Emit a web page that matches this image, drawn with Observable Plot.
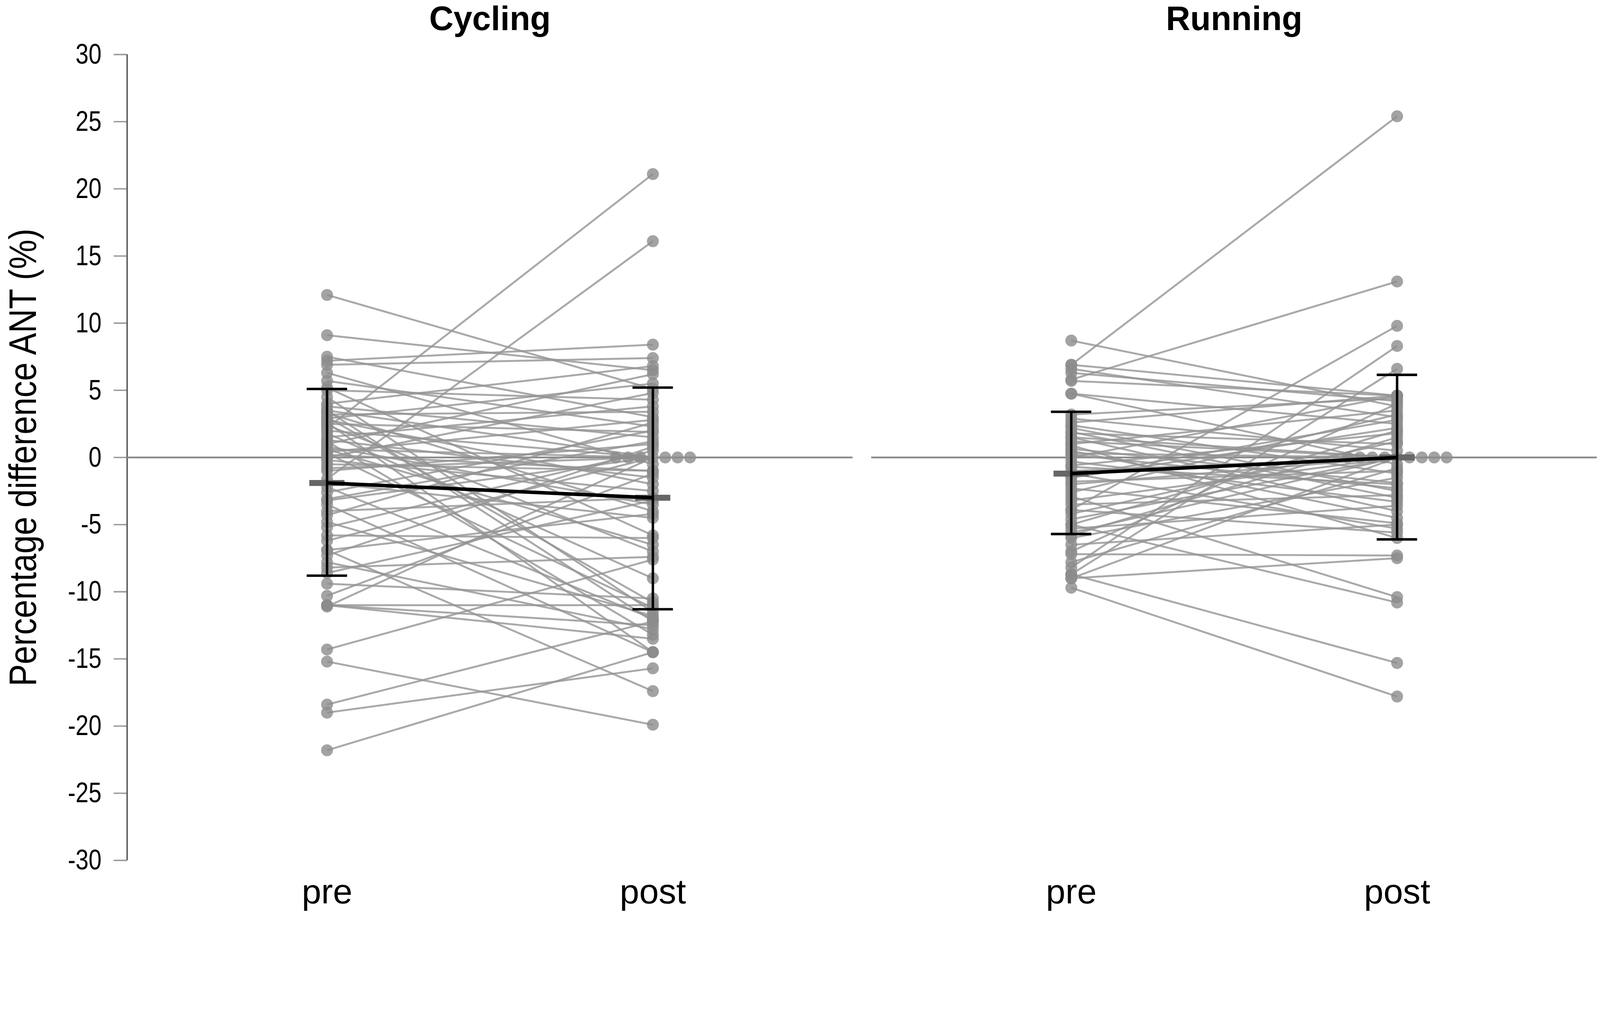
<!DOCTYPE html>
<html>
<head>
<meta charset="utf-8">
<script src="https://cdn.jsdelivr.net/npm/d3@7"></script>
<script src="https://cdn.jsdelivr.net/npm/@observablehq/plot@0.6"></script>
<style>
  html, body { margin: 0; padding: 0; background: #fff; }
  #chart svg { display: block; }
</style>
</head>
<body>
<div id="chart"></div>
<script>
// ---------- data ----------
const sports = ["Cycling", "Running"];
const stages = ["pre", "post"];
const yTicks = [30, 25, 20, 15, 10, 5, 0, -5, -10, -15, -20, -25, -30];
const yLabel = "Percentage difference ANT (%)";

const cyclingPre = [12.1, 9.1, 7.2, 7.5, 6.9, 6.3, 5.7, 5.2, 5.0, 4.5, 4.0, 3.8, 3.5, 3.5, 3.3, 3.2, 3.0, 2.9, 2.8, 2.6,
  2.5, 2.4, 2.2, 2.0, 1.8, 1.5, 1.3, 1.2, 1.0, 0.8, 0.6, 0.6, 0.4, 0.3, 0.2, 0.0, -0.2, -0.5, -0.8, -1.0,
  -1.6, -1.9, -2.2, -2.6, -3.1, -3.2, -3.5, -4.0, -4.3, -4.8, -5.2, -5.8, -6.2, -6.9, -6.9, -7.3, -7.8, -8.2, -8.6, -9.4,
  -10.3, -11.0, -11.0, -11.0, -11.1, -14.3, -15.2, -18.4, -19.0, -21.8];
const cyclingPost = [5.1, 6.5, 8.4, 3.0, 7.4, -0.5, 2.3, -5.8, 4.3, -11.5, 6.8, 1.5, -12.2, 0, -4.0, 3.4, -10.8, 5.5, -2.0, -14.5,
  1.9, -7.0, 21.1, 0, -9.0, 3.8, -1.5, -13.2, 6.2, -3.5, 0, -6.5, 2.8, -11.2, -1.0, 4.8, -2.5, -1.0, 0, 1.0,
  16.1, -4.5, -12.0, 2.0, 1.2, 0, -14.5, -3.0, 2.6, -11.8, 0.5, -6.0, 0, -17.4, -4.2, 0.8, -12.8, -7.4, -3.2, -10.5,
  -1.2, -11.0, -12.5, -13.5, 0, -7.6, -19.9, -12.2, -15.7, -14.5];

const runningPre = [8.7, 6.9, 6.9, 6.6, 6.3, 5.8, 5.7, 4.75, 4.75, 2.6, 2.2, 1.8, 1.5, 1.5, 1.0, 0.65, 0.3, 0.0, -0.3, -0.6,
  -1.0, -1.2, -1.5, -1.8, -2.0, -2.3, -2.6, -2.9, -3.2, -3.5, -3.9, -3.9, -4.2, -4.6, -5.0, -5.0, -5.3, -5.6, -6.0, -7.0,
  -7.2, -7.8, -8.2, -8.7, -8.7, -9.0, -9.0, -9.7, 2.9, -0.7, 0.5, -1.4, 2.4, -6.5, 3.2, 1.9, -5.8, 0.9, 1.2, 0.2];
const runningPost = [3.8, 25.4, 4.6, 3.0, 4.2, 13.1, 4.6, 2.5, -0.5, 4.6, -2.5, 1.0, 0, -4.0, 3.5, -1.9, 0, 4.6, -3.3, 1.8,
  0, -5.3, 2.2, -1.0, 0, -4.9, 3.2, -10.4, 0, -2.8, 9.8, -5.6, 1.2, 0, -10.8, 2.0, -3.6, 0, -1.5, 4.0,
  -7.3, -0.8, 8.3, 6.6, -15.3, -7.5, 0, -17.8, 0.5, -2.0, -4.5, 2.8, -1.2, -5.0, 4.4, -3.0, 1.5, -6.0, 0, -2.3];

// group summaries (mean and ±1 SD, as drawn)
const meanPre = [-1.9, -1.2];
const meanPost = [-3.0, 0.0];
const sdLowPre = [-8.8, -5.7];
const sdHighPre = [5.1, 3.4];
const sdLowPost = [-11.3, -6.1];
const sdHighPost = [5.2, 6.15];

// ---------- tables built from the arrays ----------
const series = {Cycling: [cyclingPre, cyclingPost], Running: [runningPre, runningPost]};
const pairs = [];
const dots = [];
const stackStep = 0.038; // horizontal step of stacked identical points
for (const sport of sports) {
  const [pre, post] = series[sport];
  pre.forEach((v, i) => {
    pairs.push({sport, pre: v, post: post[i]});
    dots.push({sport, x: 0, y: v});
  });
  const zeros = post.filter(v => v === 0).length;
  let k = 0;
  post.forEach(v => {
    if (v === 0) {
      dots.push({sport, x: 1 + (k - (zeros - 1) / 2) * stackStep, y: v});
      k++;
    } else dots.push({sport, x: 1, y: v});
  });
}
const summary = [];
sports.forEach((sport, i) => {
  summary.push({sport, x: 0, mean: meanPre[i], lo: sdLowPre[i], hi: sdHighPre[i]});
  summary.push({sport, x: 1, mean: meanPost[i], lo: sdLowPost[i], hi: sdHighPost[i]});
});
const caps = summary.flatMap(d => [{sport: d.sport, x: d.x, y: d.lo}, {sport: d.sport, x: d.x, y: d.hi}]);
const meanLinks = sports.map((sport, i) => ({sport, y1: meanPre[i], y2: meanPost[i]}));

const REG = "'Liberation Sans', Arial, sans-serif";
const xDomain = [-0.6136, 1.6136];
const barHalf = 0.054, capHalf = 0.062;

const chart = Plot.plot({
  width: 4562,
  height: 2609,
  marginTop: 155,
  marginBottom: 156,
  marginLeft: 361,
  marginRight: 9,
  style: {background: "white", fontFamily: REG},
  fx: {domain: sports, paddingInner: 0.025, paddingOuter: 0},
  x: {domain: xDomain},
  y: {domain: [-30, 30]},
  marks: [
    Plot.axisFx({anchor: "top", tickSize: 0, tickPadding: 70, fontSize: 96, fontWeight: "bold", label: null, fill: "black"}),
    Plot.axisX({ticks: [0, 1], tickFormat: d => stages[d], tickSize: 0, tickPadding: 52, fontSize: 100, label: null, fill: "black"}),
    Plot.axisY({ticks: yTicks, tickFormat: d => String(d), tickSize: 38, tickPadding: 35, fontSize: 81,
      label: null, stroke: "#9a9a9a", strokeWidth: 4, fill: "black"}),
    Plot.ruleX([sports[0]], {fx: d => d, x: () => xDomain[0], y1: () => -30, y2: () => 30, stroke: "#555", strokeWidth: 4}),
    Plot.text([yLabel], {fx: () => sports[0], frameAnchor: "left", textAnchor: "middle", lineAnchor: "middle",
      rotate: -90, dx: -295, fontSize: 110, fill: "black"}),
    Plot.ruleY([0], {stroke: "#8a8a8a", strokeWidth: 5}),
    Plot.link(pairs, {fx: "sport", x1: () => 0, x2: () => 1, y1: "pre", y2: "post",
      stroke: "#939393", strokeOpacity: 0.8, strokeWidth: 5.5}),
    Plot.dot(dots, {fx: "sport", x: "x", y: "y", r: 17, fill: "#8c8c8c", fillOpacity: 0.8, stroke: "none"}),
    Plot.ruleY(summary, {fx: "sport", y: "mean", x1: d => d.x - barHalf, x2: d => d.x + barHalf,
      stroke: "#666", strokeWidth: 17}),
    Plot.ruleX(summary, {fx: "sport", x: "x", y1: "lo", y2: "hi", stroke: "black", strokeWidth: 7}),
    Plot.ruleY(caps, {fx: "sport", y: "y", x1: d => d.x - capHalf, x2: d => d.x + capHalf, stroke: "black", strokeWidth: 7}),
    Plot.link(meanLinks, {fx: "sport", x1: () => 0, x2: () => 1, y1: "y1", y2: "y2", stroke: "black", strokeWidth: 10})
  ]
});

// condensed (narrow) glyphs for the y tick labels and the y title, as in the original
function condense(sel, k) {
  sel.each(function () {
    const t = d3.select(this);
    const tr = t.attr("transform");
    if (tr) t.attr("transform", tr + ` scale(${k},1)`);
    else {
      const x = +t.attr("x") || 0;
      t.attr("transform", `translate(${x},0) scale(${k},1) translate(${-x},0)`);
    }
  });
}
const root = d3.select(chart);
condense(root.selectAll('g[aria-label="y-axis tick label"] text'), 0.82);
condense(root.selectAll('g[aria-label="text"] text'), 0.86);

document.getElementById("chart").appendChild(chart);
</script>
</body>
</html>
